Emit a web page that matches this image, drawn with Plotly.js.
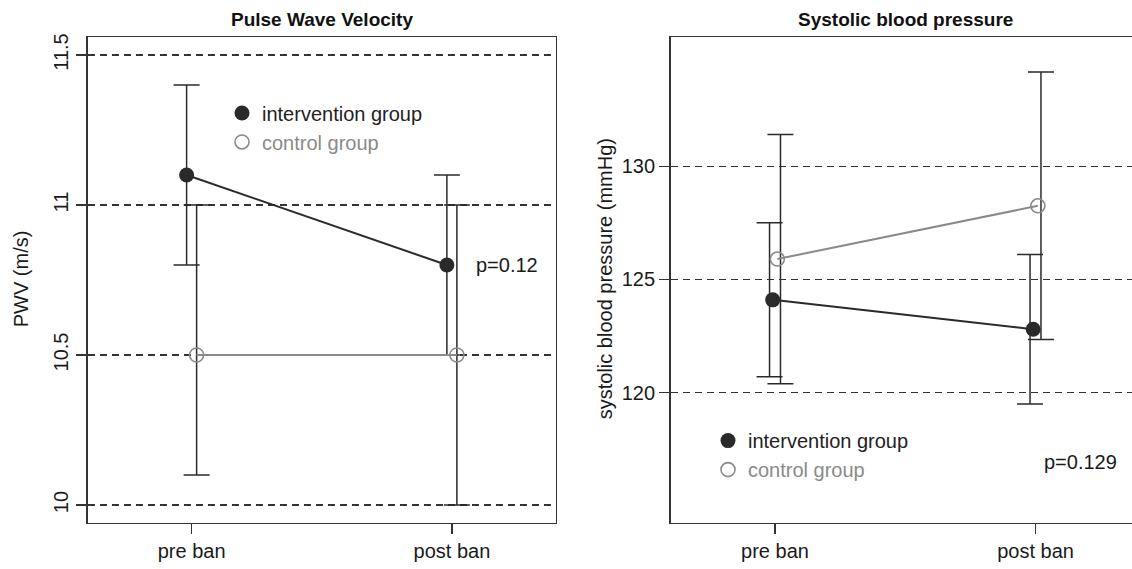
<!DOCTYPE html>
<html>
<head>
<meta charset="utf-8">
<script src="https://cdn.plot.ly/plotly-3.0.1.min.js"></script>
<style>html,body{margin:0;padding:0;background:#fff;overflow:hidden}</style>
</head>
<body>
<div id="chart" style="width:1132px;height:569px"></div>
<script>
// ---- data ----
const categories = ['pre ban', 'post ban'];
const groupNames = ['intervention group', 'control group'];
// Pulse Wave Velocity (m/s)
const pwvTicks = [10, 10.5, 11, 11.5];
const pwvTickText = ['10', '10.5', '11', '11.5'];
const pwvIntMean = [11.1, 10.8];
const pwvIntErrUp = [0.3, 0.3];
const pwvIntErrDown = [0.3, 0.3];
const pwvCtrlMean = [10.5, 10.5];
const pwvCtrlErrUp = [0.5, 0.5];
const pwvCtrlErrDown = [0.4, 0.5];
const pwvP = 'p=0.12';
// Systolic blood pressure (mmHg)
const sbpTicks = [120, 125, 130];
const sbpTickText = ['120', '125', '130'];
const sbpIntMean = [124.1, 122.8];
const sbpIntErrUp = [3.4, 3.3];
const sbpIntErrDown = [3.4, 3.3];
const sbpCtrlMean = [125.9, 128.25];
const sbpCtrlErrUp = [5.5, 5.9];
const sbpCtrlErrDown = [5.5, 5.9];
const sbpP = 'p=0.129';

// ---- styling ----
const W = 1132, H = 569;
const FONT = 'Liberation Sans, Arial, sans-serif';
const DARK = '#2a2a2a', GREY = '#8a8a8a', AX = '#333333';
const px = v => v / W;
const pos = off => categories.map((c, i) => i + 1 + off);

function errTrace(mean, up, down, off, xa, ya) {
  return {x: pos(off), y: mean, xaxis: xa, yaxis: ya, type: 'scatter', mode: 'markers',
    marker: {size: 2, opacity: 0}, showlegend: false, hoverinfo: 'skip',
    error_y: {type: 'data', symmetric: false, array: up, arrayminus: down,
      color: DARK, thickness: 1.5, width: 13}};
}
function lineTrace(mean, off, color, xa, ya) {
  return {x: pos(off), y: mean, xaxis: xa, yaxis: ya, type: 'scatter', mode: 'lines',
    line: {color: color, width: 2}, showlegend: false, hoverinfo: 'skip'};
}
function markTrace(mean, off, filled, name, xa, ya, leg) {
  return {x: pos(off), y: mean, xaxis: xa, yaxis: ya, type: 'scatter', mode: 'markers',
    name: name, legend: leg, showlegend: true,
    marker: filled ? {symbol: 'circle', size: 15, color: DARK, line: {width: 0}}
                   : {symbol: 'circle-open', size: 14, color: GREY, line: {width: 1.6, color: GREY}}};
}
const ctrlName = '<span style="color:' + GREY + '">' + groupNames[1] + '</span>';

const o1 = 0.0192, ob = 0.021, op = 0.009;
const traces = [
  errTrace(pwvIntMean, pwvIntErrUp, pwvIntErrDown, -o1, 'x', 'y'),
  errTrace(pwvCtrlMean, pwvCtrlErrUp, pwvCtrlErrDown, o1, 'x', 'y'),
  lineTrace(pwvCtrlMean, o1, GREY, 'x', 'y'),
  lineTrace(pwvIntMean, -o1, DARK, 'x', 'y'),
  markTrace(pwvIntMean, -o1, true, groupNames[0], 'x', 'y', 'legend'),
  markTrace(pwvCtrlMean, o1, false, ctrlName, 'x', 'y', 'legend'),

  errTrace(sbpIntMean, sbpIntErrUp, sbpIntErrDown, -ob, 'x2', 'y2'),
  errTrace(sbpCtrlMean, sbpCtrlErrUp, sbpCtrlErrDown, ob, 'x2', 'y2'),
  lineTrace(sbpCtrlMean, op, GREY, 'x2', 'y2'),
  lineTrace(sbpIntMean, -op, DARK, 'x2', 'y2'),
  markTrace(sbpIntMean, -op, true, groupNames[0], 'x2', 'y2', 'legend2'),
  markTrace(sbpCtrlMean, op, false, ctrlName, 'x2', 'y2', 'legend2')
];

const xCommon = {tickmode: 'array', tickvals: [1, 2], ticktext: categories, ticks: 'outside',
  ticklen: 10, tickwidth: 1.3, tickcolor: AX, showline: true, linecolor: AX, linewidth: 1.4,
  mirror: true, showgrid: false, zeroline: false, fixedrange: true,
  tickfont: {family: FONT, size: 20, color: '#1a1a1a'}};
const yCommon = {tickmode: 'array', ticks: 'outside', ticklen: 10, tickwidth: 1.3, tickcolor: AX,
  showline: true, linecolor: AX, linewidth: 1.4, showgrid: true, gridcolor: '#333',
  gridwidth: 1.2, griddash: '7px,5px', zeroline: false, fixedrange: true,
  tickfont: {family: FONT, size: 20, color: '#1a1a1a'}};

const layout = {
  width: W, height: H, margin: {l: 0, r: 0, t: 36.5, b: 46},
  paper_bgcolor: '#fff', plot_bgcolor: '#fff', font: {family: FONT},
  xaxis: Object.assign({}, xCommon, {domain: [px(87.5), px(556)], range: [0.6, 2.4], anchor: 'y'}),
  yaxis: Object.assign({}, yCommon, {domain: [0, 1], range: [9.94, 11.56], tickvals: pwvTicks,
    ticktext: pwvTickText, tickangle: -90, mirror: true, anchor: 'x'}),
  xaxis2: Object.assign({}, xCommon, {domain: [px(670.5), 1], range: [0.5988, 2.3704], anchor: 'y2'}),
  yaxis2: Object.assign({}, yCommon, {domain: [0, 1], range: [114.25, 135.7], tickvals: sbpTicks,
    ticktext: sbpTickText, mirror: false, anchor: 'x2'}),
  legend: {x: px(222), xanchor: 'left', y: (523 - 93) / 486.5, yanchor: 'top',
    bgcolor: 'rgba(0,0,0,0)', borderwidth: 0, tracegroupgap: 0,
    font: {family: FONT, size: 20, color: '#222'}},
  legend2: {x: px(708), xanchor: 'left', y: (523 - 421) / 486.5, yanchor: 'top',
    bgcolor: 'rgba(0,0,0,0)', borderwidth: 0, tracegroupgap: 0,
    font: {family: FONT, size: 20, color: '#222'}},
  annotations: [
    {text: '<b>Pulse Wave Velocity</b>', xref: 'paper', yref: 'paper', x: px(321.7), y: (523 - 18.5) / 486.5,
      showarrow: false, xanchor: 'center', yanchor: 'middle', font: {family: FONT, size: 19, color: '#111'}},
    {text: '<b>Systolic blood pressure</b>', xref: 'paper', yref: 'paper', x: px(905), y: (523 - 18.5) / 486.5,
      showarrow: false, xanchor: 'center', yanchor: 'middle', font: {family: FONT, size: 19, color: '#111'}},
    {text: 'PWV (m/s)', xref: 'paper', yref: 'paper', x: px(21), y: (523 - 279) / 486.5, textangle: -90,
      showarrow: false, xanchor: 'center', yanchor: 'middle', font: {family: FONT, size: 20, color: '#1a1a1a'}},
    {text: 'systolic blood pressure (mmHg)', xref: 'paper', yref: 'paper', x: px(605), y: (523 - 279) / 486.5,
      textangle: -90, showarrow: false, xanchor: 'center', yanchor: 'middle',
      font: {family: FONT, size: 20, color: '#1a1a1a'}},
    {text: pwvP, xref: 'paper', yref: 'paper', x: px(474), y: (523 - 265) / 486.5, showarrow: false,
      xanchor: 'left', yanchor: 'middle', font: {family: FONT, size: 20, color: '#1a1a1a'}},
    {text: sbpP, xref: 'paper', yref: 'paper', x: px(1042), y: (523 - 462) / 486.5, showarrow: false,
      xanchor: 'left', yanchor: 'middle', font: {family: FONT, size: 20, color: '#1a1a1a'}}
  ]
};

Plotly.newPlot('chart', traces, layout, {staticPlot: true, displayModeBar: false});
</script>
</body>
</html>
